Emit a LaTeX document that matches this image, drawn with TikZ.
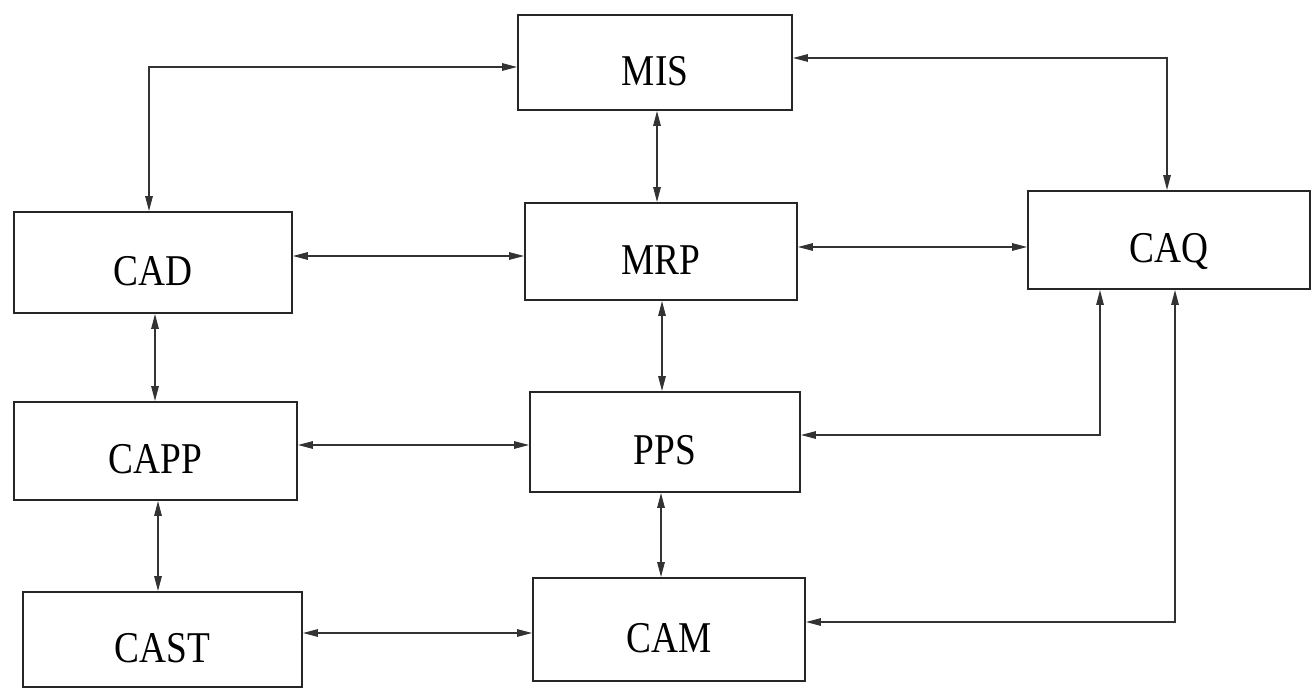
\documentclass[tikz,border=0pt]{standalone}
\usepackage{fontspec}
\setmainfont{Liberation Serif}
\newfontfamily\labfont[FakeStretch=0.85]{Liberation Serif}
\usetikzlibrary{arrows.meta}
\begin{document}
\begin{tikzpicture}[x=0.02cm,y=-0.02cm,
  box/.style={draw=black!85, line width=1.1pt, inner sep=0pt,
    text height=26pt, text depth=0pt,
    font=\labfont\fontsize{25}{28}\selectfont},
  link/.style={draw=black!80, line width=0.8pt,
    {Triangle[length=0.3cm,width=0.15cm]}-{Triangle[length=0.3cm,width=0.15cm]}}]
\useasboundingbox[fill=white] (0,0) rectangle (1311,689);
\node[box, minimum width=5.48cm, minimum height=1.9cm] (MIS) at (655,62.5) {MIS};
\node[box, minimum width=5.44cm, minimum height=1.94cm] (MRP) at (661,251.5) {MRP};
\node[box, minimum width=5.56cm, minimum height=2.02cm] (CAD) at (153,262.5) {CAD};
\node[box, minimum width=5.64cm, minimum height=1.96cm] (CAQ) at (1169,240) {CAQ};
\node[box, minimum width=5.66cm, minimum height=1.96cm] (CAPP) at (155.5,451) {CAPP};
\node[box, minimum width=5.4cm, minimum height=2.0cm] (PPS) at (665,442) {PPS};
\node[box, minimum width=5.58cm, minimum height=1.9cm] (CAST) at (162.5,639.5) {CAST};
\node[box, minimum width=5.44cm, minimum height=2.06cm] (CAM) at (669,629.5) {CAM};
% connectors
\draw[link] (MIS.west |- 0,67) -| (CAD.north -| 149,0);
\draw[link] (MIS.east |- 0,58) -| (CAQ.north -| 1167,0);
\draw[link] (MIS.south -| 657,0) -- (MRP.north -| 657,0);
\draw[link] (CAD.east |- 0,256) -- (MRP.west |- 0,256);
\draw[link] (MRP.east |- 0,247) -- (CAQ.west |- 0,247);
\draw[link] (CAD.south -| 155,0) -- (CAPP.north -| 155,0);
\draw[link] (MRP.south -| 662,0) -- (PPS.north -| 662,0);
\draw[link] (CAPP.east |- 0,445) -- (PPS.west |- 0,445);
\draw[link] (PPS.east |- 0,435) -| (CAQ.south -| 1100,0);
\draw[link] (PPS.south -| 661,0) -- (CAM.north -| 661,0);
\draw[link] (CAPP.south -| 158,0) -- (CAST.north -| 158,0);
\draw[link] (CAST.east |- 0,633) -- (CAM.west |- 0,633);
\draw[link] (CAM.east |- 0,622) -| (CAQ.south -| 1175,0);
\end{tikzpicture}
\end{document}
